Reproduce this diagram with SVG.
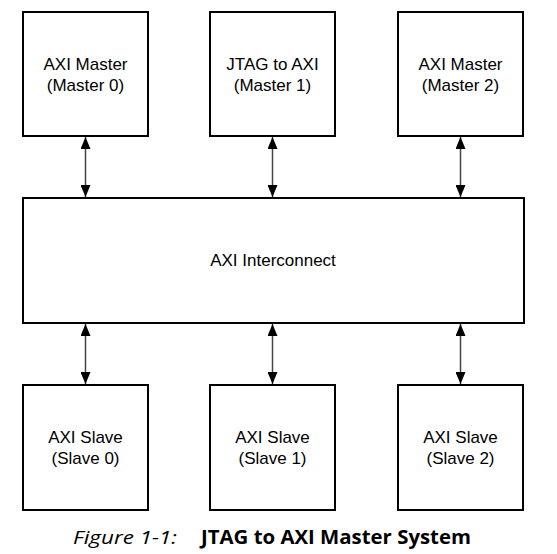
<svg xmlns="http://www.w3.org/2000/svg" width="557" height="554" viewBox="0 0 557 554">
<style>
.box{fill:#fff;stroke:#000;stroke-width:2}
.lbl{font-family:"Liberation Sans",Arial,sans-serif;font-size:17px;fill:#000;text-anchor:middle}
.con{stroke:#444;stroke-width:1.5;fill:none;marker-start:url(#ah);marker-end:url(#ah)}
.cap{font-family:"Open Sans",sans-serif;font-size:19px;fill:#000}
</style>
<defs>
<marker id="ah" viewBox="0 0 12 10" refX="12" refY="5" markerUnits="userSpaceOnUse" markerWidth="12" markerHeight="10" orient="auto-start-reverse">
<path d="M0,0 L12,5 L0,10 Z" fill="#000"/>
</marker>
</defs>
<rect width="557" height="554" fill="#fff"/>
<g id="connectors">
<line class="con" x1="85.5" y1="137" x2="85.5" y2="197"/>
<line class="con" x1="272.5" y1="137" x2="272.5" y2="197"/>
<line class="con" x1="460.5" y1="137" x2="460.5" y2="197"/>
<line class="con" x1="85.5" y1="324" x2="85.5" y2="384"/>
<line class="con" x1="272.5" y1="324" x2="272.5" y2="384"/>
<line class="con" x1="460.5" y1="324" x2="460.5" y2="384"/>
</g>
<g id="master0"><rect class="box" x="23" y="12" width="125" height="124"/><text class="lbl" x="85.5" y="70">AXI Master</text><text class="lbl" x="85.5" y="91">(Master 0)</text></g>
<g id="master1"><rect class="box" x="210" y="12" width="125" height="124"/><text class="lbl" x="272.5" y="70">JTAG to AXI</text><text class="lbl" x="272.5" y="91">(Master 1)</text></g>
<g id="master2"><rect class="box" x="398" y="12" width="125" height="124"/><text class="lbl" x="460.5" y="70">AXI Master</text><text class="lbl" x="460.5" y="91">(Master 2)</text></g>
<g id="interconnect"><rect class="box" x="23" y="198" width="501" height="125"/><text class="lbl" x="273" y="266">AXI Interconnect</text></g>
<g id="slave0"><rect class="box" x="23" y="385" width="125" height="125"/><text class="lbl" x="85.5" y="443">AXI Slave</text><text class="lbl" x="85.5" y="464">(Slave 0)</text></g>
<g id="slave1"><rect class="box" x="210" y="385" width="125" height="125"/><text class="lbl" x="272.5" y="443">AXI Slave</text><text class="lbl" x="272.5" y="464">(Slave 1)</text></g>
<g id="slave2"><rect class="box" x="398" y="385" width="125" height="125"/><text class="lbl" x="460.5" y="443">AXI Slave</text><text class="lbl" x="460.5" y="464">(Slave 2)</text></g>
<g id="caption">
<text class="cap" x="73" y="544" font-style="italic" font-size="20" textLength="104" lengthAdjust="spacingAndGlyphs">Figure 1-1:</text>
<text class="cap" x="201" y="544" font-weight="bold" textLength="270" lengthAdjust="spacingAndGlyphs">JTAG to AXI Master System</text>
</g>
</svg>
